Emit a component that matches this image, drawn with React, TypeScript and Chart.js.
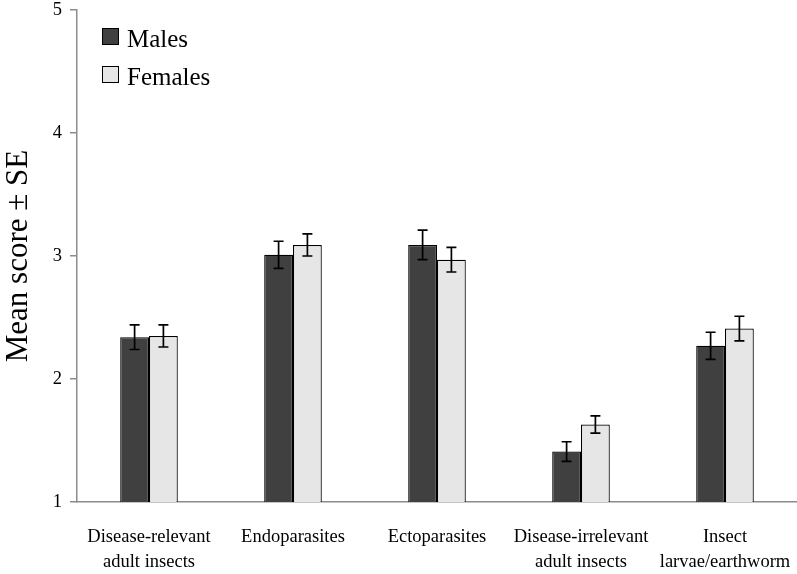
import React, { useEffect, useRef } from "react";
import { Chart, registerables } from "chart.js";

Chart.register(...registerables);

const categories: string[][] = [
  ["Disease-relevant", "adult insects"],
  ["Endoparasites"],
  ["Ectoparasites"],
  ["Disease-irrelevant", "adult insects"],
  ["Insect", "larvae/earthworm"],
];
const seriesNames = ["Males", "Females"];
const malesMean = [2.34, 3.01, 3.09, 1.41, 2.27];
const femalesMean = [2.35, 3.09, 2.97, 1.63, 2.41];
const malesSE = [0.1, 0.11, 0.12, 0.08, 0.11];
const femalesSE = [0.09, 0.09, 0.1, 0.07, 0.1];
const yTicks = [1, 2, 3, 4, 5];

const FONT = "'Liberation Serif', 'Times New Roman', serif";

const errorBarPlugin = {
  id: "errorBars",
  afterDatasetsDraw(chart: any) {
    const ctx = chart.ctx;
    const yScale = chart.scales.y;
    ctx.save();
    ctx.strokeStyle = "#000";
    ctx.lineWidth = 1.7;
    chart.data.datasets.forEach((ds: any, i: number) => {
      const meta = chart.getDatasetMeta(i);
      meta.data.forEach((bar: any, j: number) => {
        const v = ds.data[j];
        const e = ds.errors[j];
        const x = bar.x;
        const yt = yScale.getPixelForValue(v + e);
        const yb = yScale.getPixelForValue(v - e);
        const cap = 5;
        ctx.beginPath();
        ctx.moveTo(x, yt);
        ctx.lineTo(x, yb);
        ctx.moveTo(x - cap, yt);
        ctx.lineTo(x + cap, yt);
        ctx.moveTo(x - cap, yb);
        ctx.lineTo(x + cap, yb);
        ctx.stroke();
      });
    });
    ctx.restore();
  },
};

const insideLegendPlugin = {
  id: "insideLegend",
  afterDraw(chart: any) {
    const ctx = chart.ctx;
    const area = chart.chartArea;
    ctx.save();
    chart.data.datasets.forEach((ds: any, i: number) => {
      const bx = area.left + 25;
      const by = area.top + 18 + i * 38;
      ctx.fillStyle = ds.backgroundColor;
      ctx.fillRect(bx, by, 17, 17);
      ctx.strokeStyle = "#000";
      ctx.lineWidth = 1;
      ctx.strokeRect(bx + 0.5, by + 0.5, 16, 16);
      ctx.fillStyle = "#000";
      ctx.font = `25px ${FONT}`;
      ctx.textBaseline = "alphabetic";
      ctx.textAlign = "left";
      ctx.fillText(ds.label, bx + 25, by + 19);
    });
    ctx.restore();
  },
};

export default function App() {
  const ref = useRef<HTMLCanvasElement>(null);
  useEffect(() => {
    document.body.style.margin = "0";
    const chart = new Chart(ref.current as HTMLCanvasElement, {
      type: "bar",
      data: {
        labels: categories,
        datasets: [
          {
            label: seriesNames[0],
            data: malesMean,
            errors: malesSE,
            backgroundColor: "#404040",
            borderColor: "#000",
            borderWidth: 1.2,
            categoryPercentage: 0.4,
            barPercentage: 1.0,
          } as any,
          {
            label: seriesNames[1],
            data: femalesMean,
            errors: femalesSE,
            backgroundColor: "#e6e6e6",
            borderColor: "#000",
            borderWidth: 1.2,
            categoryPercentage: 0.4,
            barPercentage: 1.0,
          } as any,
        ],
      },
      options: {
        animation: false,
        responsive: false,
        maintainAspectRatio: false,
        layout: { padding: { top: 10, right: 0, left: 0, bottom: 0 } },
        plugins: {
          legend: { display: false },
          tooltip: { enabled: false },
        },
        scales: {
          x: {
            grid: { display: false, drawTicks: true, tickLength: 21 },
            border: { display: true, color: "#8c8c8c", width: 1.5 },
            ticks: {
              color: "#000",
              font: { family: FONT, size: 18.5, lineHeight: 1.35 },
              padding: 2,
              maxRotation: 0,
              autoSkip: false,
            },
            afterFit(scale: any) {
              scale.height = 72;
              scale.paddingLeft = 0;
              scale.paddingRight = 0;
            },
          },
          y: {
            min: 1,
            max: 5,
            afterBuildTicks(scale: any) {
              scale.ticks = yTicks.map((v) => ({ value: v }));
            },
            grid: {
              drawOnChartArea: false,
              drawTicks: true,
              tickLength: 7,
              color: "#8c8c8c",
              lineWidth: 1.5,
            },
            border: { display: true, color: "#8c8c8c", width: 1.5 },
            ticks: {
              color: "#000",
              font: { family: FONT, size: 18.5, lineHeight: 1 },
              padding: 8,
            },
            title: {
              display: true,
              text: "Mean score ± SE",
              color: "#000",
              font: { family: FONT, size: 31 },
              padding: { top: 0, bottom: 0 },
            },
            afterFit(scale: any) {
              scale.width = 77;
              scale.paddingTop = 0;
              scale.paddingBottom = 0;
            },
          },
        },
      },
      plugins: [errorBarPlugin, insideLegendPlugin],
    });
    return () => chart.destroy();
  }, []);
  return (
    <div style={{ width: 797, height: 574, background: "#fff" }}>
      <canvas ref={ref} width={797} height={574} style={{ display: "block" }} />
    </div>
  );
}
